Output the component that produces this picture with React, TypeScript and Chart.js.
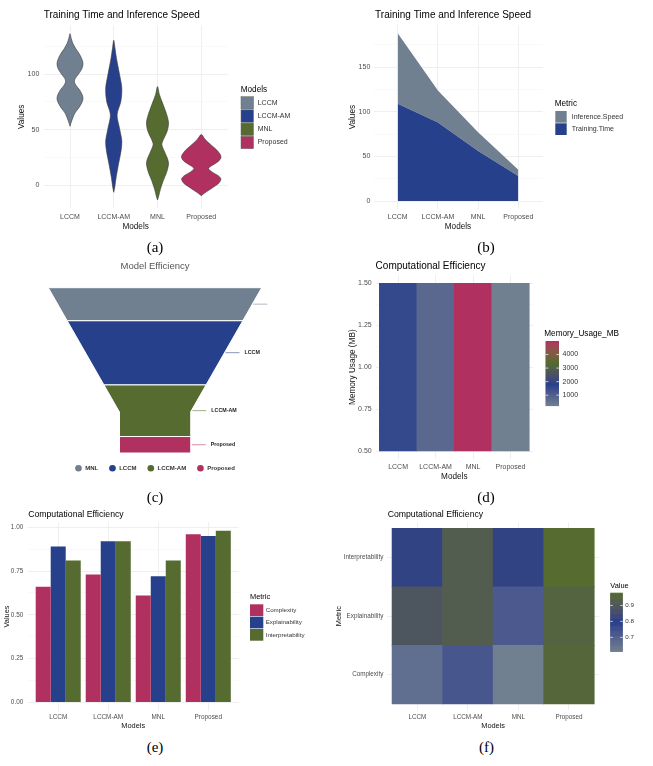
import React, { useEffect, useRef } from 'react';
import { Chart, registerables } from 'chart.js';

Chart.register(...registerables);

// ---------------- data ----------------
const models = ['LCCM', 'LCCM-AM', 'MNL', 'Proposed'];

// (a) violin outlines: value levels and relative half-width (1 = widest)
const lccmLevels = [53, 56.8, 60.4, 64.9, 69.4, 73.8, 77.7, 81.3, 85.7, 90.2, 93.2, 96.1, 100.6, 105.1, 109.5, 114, 118.5, 122.9, 127.4, 131.8, 136.3];
const lccmDensity = [0, 0.066, 0.14, 0.25, 0.44, 0.59, 0.66, 0.62, 0.49, 0.29, 0.22, 0.27, 0.46, 0.61, 0.66, 0.59, 0.46, 0.29, 0.15, 0.066, 0];
const lccmAmLevels = [-6.5, -2.1, 6.8, 18.8, 30.7, 39.6, 51.5, 63.4, 75.3, 87.2, 99.1, 114, 122.9, 130.4];
const lccmAmDensity = [0, 0.05, 0.12, 0.24, 0.37, 0.41, 0.29, 0.17, 0.36, 0.41, 0.3, 0.14, 0.066, 0];
const mnlLevels = [-13.4, -9.5, -3.6, 3.9, 11.3, 18.8, 23.2, 30.7, 36.6, 41.1, 48.5, 56, 63.4, 72.3, 81.3, 88.7];
const mnlDensity = [0, 0.066, 0.15, 0.29, 0.46, 0.56, 0.52, 0.34, 0.22, 0.3, 0.49, 0.56, 0.47, 0.29, 0.1, 0];
const proposedLevels = [-9.5, -7.4, -5.1, -2.1, 1.5, 5.4, 8.3, 11.9, 14.9, 17.3, 21.1, 24.7, 27.7, 32.1, 36.6, 41.1, 45.5];
const proposedDensity = [0, 0.15, 0.34, 0.59, 0.88, 1.0, 0.88, 0.54, 0.37, 0.51, 0.85, 1.0, 0.96, 0.76, 0.47, 0.2, 0];
const violinTicks = [0, 25, 50, 75, 100, 125];

// (b) stacked area
const trainingTime = [109, 88, 56, 28];
const inferenceSpeed = [79, 36, 21, 7];
const areaTicks = [0, 25, 50, 75, 100, 125, 150, 175];

// (c) funnel
const funnelModels = ['MNL', 'LCCM', 'LCCM-AM', 'Proposed'];
const funnelValues = [56, 109, 88, 28];

// (d) memory tiles
const memoryUsage = [1600, 800, 5000, 200];
const memoryTicks = [0.5, 0.625, 0.75, 0.875, 1, 1.125, 1.25, 1.375, 1.5];
const memoryLegendTicks = [1000, 2000, 3000, 4000];

// (e)(f) scores
const metrics = ['Complexity', 'Explainability', 'Interpretability'];
const complexity = [0.66, 0.73, 0.61, 0.96];
const explainability = [0.89, 0.92, 0.72, 0.95];
const interpretability = [0.81, 0.92, 0.81, 0.98];
const scoreTicks = [0, 0.125, 0.25, 0.375, 0.5, 0.625, 0.75, 0.875, 1];
const valueLegendTicks = [0.7, 0.8, 0.9];

// ---------------- style ----------------
const SANS = '"Liberation Sans", Arial, Helvetica, sans-serif';
const SERIF = '"Liberation Serif", "Times New Roman", serif';
const SLATE = '#708090';
const BLUE = '#27408B';
const GREEN = '#556B2F';
const MAROON = '#B03060';
const modelColors = [SLATE, BLUE, GREEN, MAROON];
const funnelColors = [SLATE, BLUE, GREEN, MAROON];
const metricColors = [MAROON, BLUE, GREEN];
const GRID_MAJOR = '#ebebeb';
const GRID_MINOR = '#f3f3f3';
const TICK = '#4d4d4d';

const font = (size: number, weight: string = 'normal') => ({ size, weight, family: SANS, lineHeight: 1.2 });

function txt(ctx: any, s: string, x: number, y: number, size: number, color: string, align: string = 'left', weight: string = 'normal') {
  ctx.font = `${weight} ${size}px ${SANS}`;
  ctx.fillStyle = color;
  ctx.textAlign = align;
  ctx.textBaseline = 'middle';
  ctx.fillText(s, x, y);
}

// ---- Lab colour ramp (like scales::colour_ramp) ----
const WHITE = [0.95047, 1, 1.08883];
function hexToRgb(h: string) {
  const n = parseInt(h.slice(1), 16);
  return [(n >> 16) & 255, (n >> 8) & 255, n & 255];
}
const toLin = (c: number) => { c /= 255; return c <= 0.04045 ? c / 12.92 : Math.pow((c + 0.055) / 1.055, 2.4); };
const toSrgb = (c: number) => {
  const v = c <= 0.0031308 ? 12.92 * c : 1.055 * Math.pow(Math.max(c, 0), 1 / 2.4) - 0.055;
  return Math.round(Math.max(0, Math.min(1, v)) * 255);
};
function rgbToLab(rgb: number[]) {
  const R = toLin(rgb[0]), G = toLin(rgb[1]), B = toLin(rgb[2]);
  const X = 0.4124564 * R + 0.3575761 * G + 0.1804375 * B;
  const Y = 0.2126729 * R + 0.7151522 * G + 0.072175 * B;
  const Z = 0.0193339 * R + 0.119192 * G + 0.9503041 * B;
  const f = (t: number) => (t > 216 / 24389 ? Math.cbrt(t) : (24389 / 27 * t + 16) / 116);
  const fx = f(X / WHITE[0]), fy = f(Y / WHITE[1]), fz = f(Z / WHITE[2]);
  return [116 * fy - 16, 500 * (fx - fy), 200 * (fy - fz)];
}
function labToRgb(lab: number[]) {
  const fy = (lab[0] + 16) / 116, fx = fy + lab[1] / 500, fz = fy - lab[2] / 200;
  const inv = (t: number) => (t * t * t > 216 / 24389 ? t * t * t : (116 * t - 16) / (24389 / 27));
  const X = inv(fx) * WHITE[0], Y = inv(fy) * WHITE[1], Z = inv(fz) * WHITE[2];
  const R = 3.2404542 * X - 1.5371385 * Y - 0.4985314 * Z;
  const G = -0.969266 * X + 1.8760108 * Y + 0.041556 * Z;
  const B = 0.0556434 * X - 0.2040259 * Y + 1.0572252 * Z;
  return [toSrgb(R), toSrgb(G), toSrgb(B)];
}
function makeRamp(colors: string[]) {
  const labs = colors.map((c) => rgbToLab(hexToRgb(c)));
  return (t: number) => {
    t = Math.max(0, Math.min(1, t));
    const s = t * (labs.length - 1);
    const i = Math.min(Math.floor(s), labs.length - 2);
    const f = s - i;
    const L = labs[i].map((v, k) => v + (labs[i + 1][k] - v) * f);
    const c = labToRgb(L);
    return `rgb(${c[0]},${c[1]},${c[2]})`;
  };
}
const memRamp = makeRamp([SLATE, BLUE, GREEN, MAROON]);
const valRamp = makeRamp([SLATE, BLUE, GREEN]);

function colorbar(ctx: any, o: any) {
  const steps = 130;
  for (let k = 0; k < steps; k++) {
    const v = o.max - ((k + 0.5) / steps) * (o.max - o.min);
    ctx.fillStyle = o.ramp((v - o.min) / (o.max - o.min));
    ctx.fillRect(o.x, o.top + (k * o.h) / steps, o.w, o.h / steps + (k < steps - 1 ? 0.6 : 0));
  }
  o.ticks.forEach((t: number) => {
    const y = o.top + ((o.max - t) / (o.max - o.min)) * o.h;
    ctx.strokeStyle = '#ffffff';
    ctx.lineWidth = 0.7;
    ctx.beginPath();
    ctx.moveTo(o.x, y); ctx.lineTo(o.x + o.w * 0.2, y);
    ctx.moveTo(o.x + o.w * 0.8, y); ctx.lineTo(o.x + o.w, y);
    ctx.stroke();
    txt(ctx, o.fmt(t), o.labelX, y, o.labelSize, '#333');
  });
}

// ---------------- ggplot-like scales ----------------
function ggScales(g: any) {
  const tl = (g.tick * 1.2) / 2;
  const ttl = (g.axisTitle * 1.2) / 2;
  const yMajor = g.yMajor;
  return {
    x: {
      type: 'linear', offset: false, min: g.xMin, max: g.xMax,
      afterBuildTicks: (s: any) => { s.ticks = g.xTicks.map((v: number) => ({ value: v })); },
      afterFit: (s: any) => { s.height = g.h - g.area.bottom; },
      ticks: { autoSkip: false, maxRotation: 0, minRotation: 0, padding: g.xLabelY - g.area.bottom - tl, color: TICK, font: font(g.tick), callback: (v: any) => g.xFmt(Number(v)) },
      grid: { color: GRID_MAJOR, lineWidth: 0.8, drawTicks: false, offset: false },
      border: { display: false },
      title: { display: true, text: g.xTitle, color: '#111', font: font(g.axisTitle), padding: { top: 0, bottom: g.h - g.xTitleY - ttl } },
    },
    y: {
      type: 'linear', min: g.yMin, max: g.yMax, stacked: !!g.stacked,
      afterBuildTicks: (s: any) => { s.ticks = g.yTicks.filter((v: number) => v >= g.yMin && v <= g.yMax).map((v: number) => ({ value: v })); },
      afterFit: (s: any) => { s.width = g.area.left; },
      ticks: { padding: g.area.left - g.yLabelRight, color: TICK, font: font(g.tick), callback: (v: any) => (yMajor(Number(v)) ? g.yFmt(Number(v)) : '') },
      grid: {
        color: (c: any) => (c.tick && yMajor(c.tick.value) ? GRID_MAJOR : GRID_MINOR),
        lineWidth: (c: any) => (c.tick && yMajor(c.tick.value) ? 0.8 : 0.5),
        drawTicks: false,
      },
      border: { display: false },
      title: { display: true, text: g.yTitle, color: '#111', font: font(g.axisTitle), padding: { top: g.yTitleX - ttl, bottom: 0 } },
    },
  };
}

function baseOptions(w: number, area: any) {
  return {
    responsive: false,
    animation: false,
    events: [],
    layout: { padding: { left: 0, right: w - area.right, top: area.top, bottom: 0 } },
    plugins: { legend: { display: false }, tooltip: { enabled: false }, title: { display: false } },
  };
}

const isMult = (v: number, m: number) => Math.abs(v / m - Math.round(v / m)) < 1e-6;

// ---------------- (a) violins ----------------
const violinLevels = [lccmLevels, lccmAmLevels, mnlLevels, proposedLevels];
const violinDensity = [lccmDensity, lccmAmDensity, mnlDensity, proposedDensity];
const VIOLIN_HALF = 0.45;
function violinOutline(center: number, levels: number[], dens: number[]) {
  const right = levels.map((y, k) => ({ x: center + dens[k] * VIOLIN_HALF, y }));
  const left = levels.slice(1, -1).map((y, k) => ({ x: center - dens[k + 1] * VIOLIN_HALF, y })).reverse();
  return [...right, ...left, right[0]];
}

function makeA() {
  const all = violinLevels.flat();
  const lo = Math.min(...all), hi = Math.max(...all), pad = (hi - lo) * 0.05;
  const area = { left: 43.75, right: 227.5, top: 25.4, bottom: 208.3 };
  const g = {
    w: 326, h: 236, area, xMin: 0.4, xMax: models.length + 0.6, xTicks: models.map((_, i) => i + 1),
    xFmt: (v: number) => models[v - 1] ?? '', yMin: lo - pad, yMax: hi + pad, yTicks: violinTicks,
    yMajor: (v: number) => isMult(v, 50), yFmt: (v: number) => String(v), tick: 7, axisTitle: 8.2,
    xTitle: 'Models', yTitle: 'Values', yLabelRight: 39.3, yTitleX: 21.7, xLabelY: 216.7, xTitleY: 226.7,
  };
  const datasets = models.map((m, i) => ({
    label: m, data: violinOutline(i + 1, violinLevels[i], violinDensity[i]), fill: 'shape',
    backgroundColor: modelColors[i], borderColor: '#3a3a3a', borderWidth: 0.6, pointRadius: 0, tension: 0.3,
  }));
  return {
    type: 'line', data: { datasets },
    options: { ...baseOptions(g.w, area), scales: ggScales(g) },
    plugins: [{
      id: 'decoA',
      afterDraw(chart: any) {
        const ctx = chart.ctx; ctx.save();
        txt(ctx, 'Training Time and Inference Speed', chart.chartArea.left, 15.7, 10, '#000');
        txt(ctx, 'Models', 240.7, 90, 8.2, '#000');
        models.forEach((m, i) => {
          const top = 96.7 + i * 13.2;
          ctx.fillStyle = modelColors[i]; ctx.fillRect(241, top, 12.5, 12.4);
          ctx.strokeStyle = '#666'; ctx.lineWidth = 0.5; ctx.strokeRect(241, top, 12.5, 12.4);
          txt(ctx, m, 257.7, top + 6.2, 7, '#333');
        });
        ctx.restore();
      },
    }],
  };
}

// ---------------- (b) stacked area ----------------
function makeB() {
  const totals = trainingTime.map((t, i) => t + inferenceSpeed[i]);
  const hi = Math.max(...totals), pad = hi * 0.05;
  const area = { left: 47.6, right: 216.4, top: 24.9, bottom: 209.4 };
  const g = {
    w: 327, h: 236, area, xMin: 0.4, xMax: models.length + 0.6, xTicks: models.map((_, i) => i + 1),
    xFmt: (v: number) => models[v - 1] ?? '', yMin: -pad, yMax: hi + pad, yTicks: areaTicks, stacked: true,
    yMajor: (v: number) => isMult(v, 50), yFmt: (v: number) => String(v), tick: 7, axisTitle: 8.2,
    xTitle: 'Models', yTitle: 'Values', yLabelRight: 44.3, yTitleX: 26.7, xLabelY: 216.7, xTitleY: 226.7,
  };
  const datasets = [
    { label: 'Training.Time', data: trainingTime.map((v, i) => ({ x: i + 1, y: v })), fill: 'origin', backgroundColor: BLUE, borderColor: 'rgba(0,0,0,0)', borderWidth: 0, pointRadius: 0, tension: 0 },
    { label: 'Inference.Speed', data: inferenceSpeed.map((v, i) => ({ x: i + 1, y: v })), fill: '-1', backgroundColor: SLATE, borderColor: 'rgba(0,0,0,0)', borderWidth: 0, pointRadius: 0, tension: 0 },
  ];
  const legend = [['Inference.Speed', SLATE], ['Training.Time', BLUE]];
  return {
    type: 'line', data: { datasets },
    options: { ...baseOptions(g.w, area), scales: ggScales(g) },
    plugins: [{
      id: 'decoB',
      afterDraw(chart: any) {
        const ctx = chart.ctx; ctx.save();
        txt(ctx, 'Training Time and Inference Speed', chart.chartArea.left + 1.5, 15.7, 10, '#000');
        txt(ctx, 'Metric', 228.7, 103.3, 8.2, '#000');
        legend.forEach((it, i) => {
          const top = 111 + i * 12.3;
          ctx.fillStyle = it[1]; ctx.fillRect(229.3, top, 11.4, 11.7);
          txt(ctx, it[0], 245.7, top + 6, 7, '#333');
        });
        ctx.restore();
      },
    }],
  };
}

// ---------------- (c) funnel ----------------
const NECK_W = 0.335;
const NECK_H = 0.25;
function makeC() {
  const total = funnelValues.reduce((s, v) => s + v, 0);
  const neckY = total * (1 - NECK_H);
  const widthAt = (y: number) => (y <= neckY ? 1 - (1 - NECK_W) * (y / neckY) : NECK_W);
  let cum = 0;
  const segs = funnelValues.map((v) => { const s = { y0: cum, y1: cum + v }; cum += v; return s; });
  const datasets = segs.map((s, i) => {
    const pts: any[] = [{ x: -widthAt(s.y0) / 2, y: s.y0 }];
    const crosses = s.y0 < neckY && s.y1 > neckY;
    if (crosses) pts.push({ x: -NECK_W / 2, y: neckY });
    pts.push({ x: -widthAt(s.y1) / 2, y: s.y1 });
    pts.push({ x: widthAt(s.y1) / 2, y: s.y1 });
    if (crosses) pts.push({ x: NECK_W / 2, y: neckY });
    pts.push({ x: widthAt(s.y0) / 2, y: s.y0 });
    pts.push({ x: -widthAt(s.y0) / 2, y: s.y0 });
    return { label: funnelModels[i], data: pts, fill: 'shape', backgroundColor: funnelColors[i], borderColor: '#ffffff', borderWidth: 1, pointRadius: 0, tension: 0 };
  });
  const area = { left: 48.3, right: 261.7, top: 35.7, bottom: 201 };
  return {
    type: 'line', data: { datasets },
    options: {
      responsive: false, animation: false, events: [],
      layout: { padding: { left: area.left, right: 326 - area.right, top: area.top, bottom: 234 - area.bottom } },
      plugins: { legend: { display: false }, tooltip: { enabled: false } },
      scales: {
        x: { type: 'linear', display: false, min: -0.5, max: 0.5 },
        y: { type: 'linear', display: false, min: 0, max: total, reverse: true },
      },
    },
    plugins: [{
      id: 'decoC',
      afterDraw(chart: any) {
        const ctx = chart.ctx; const ca = chart.chartArea;
        const xs = chart.scales.x, ys = chart.scales.y;
        ctx.save();
        const cx = (ca.left + ca.right) / 2;
        txt(ctx, 'Model Efficiency', cx, 14.7, 9.5, '#555', 'center');
        segs.forEach((s, i) => {
          const ym = (s.y0 + s.y1) / 2;
          const px = xs.getPixelForValue(widthAt(ym) / 2);
          const py = ys.getPixelForValue(ym);
          ctx.globalAlpha = 0.55;
          ctx.strokeStyle = funnelColors[i]; ctx.lineWidth = 1;
          ctx.beginPath(); ctx.moveTo(px + 1, py); ctx.lineTo(px + 15, py); ctx.stroke();
          ctx.globalAlpha = 1;
          const tx = px + 20;
          if (tx < ca.right) txt(ctx, funnelModels[i], tx, py, 5.3, '#222', 'left', 'bold');
        });
        // legend
        ctx.font = `bold 6px ${SANS}`;
        const r = 3.3, gapText = 3.4, gapItem = 11;
        const widths = funnelModels.map((m) => ctx.measureText(m).width);
        const totalW = widths.reduce((s, w) => s + 2 * r + gapText + w, 0) + gapItem * (widths.length - 1);
        let x = cx - totalW / 2;
        const ly = 216.3;
        funnelModels.forEach((m, i) => {
          ctx.fillStyle = funnelColors[i];
          ctx.beginPath(); ctx.arc(x + r, ly, r, 0, Math.PI * 2); ctx.fill();
          txt(ctx, m, x + 2 * r + gapText, ly, 6, '#333', 'left', 'bold');
          x += 2 * r + gapText + widths[i] + gapItem;
        });
        ctx.restore();
      },
    }],
  };
}

// ---------------- (d) memory tiles ----------------
function makeD() {
  const lo = Math.min(...memoryUsage), hi = Math.max(...memoryUsage);
  const area = { left: 49.6, right: 207, top: 22.9, bottom: 207.4 };
  const g = {
    w: 327, h: 234, area, xMin: 0.4, xMax: models.length + 0.6, xTicks: models.map((_, i) => i + 1),
    xFmt: (v: number) => models[v - 1] ?? '', yMin: 0.45, yMax: 1.55, yTicks: memoryTicks,
    yMajor: (v: number) => isMult(v, 0.25), yFmt: (v: number) => v.toFixed(2), tick: 7, axisTitle: 8.2,
    xTitle: 'Models', yTitle: 'Memory Usage (MB)', yLabelRight: 45.7, yTitleX: 26.7, xLabelY: 214.7, xTitleY: 224.7,
  };
  const datasets = [{
    label: 'Memory_Usage_MB',
    data: memoryUsage.map((v, i) => ({ x: i + 1, y: [0.5, 1.5] })),
    backgroundColor: memoryUsage.map((v) => memRamp((v - lo) / (hi - lo))),
    borderWidth: 0, barPercentage: 1, categoryPercentage: 1,
  }];
  return {
    type: 'bar', data: { datasets },
    options: { ...baseOptions(g.w, area), scales: ggScales(g) },
    plugins: [{
      id: 'decoD',
      afterDraw(chart: any) {
        const ctx = chart.ctx; ctx.save();
        txt(ctx, 'Computational Efficiency', chart.chartArea.left, 14.7, 10, '#000');
        txt(ctx, 'Memory_Usage_MB', 218.3, 81.3, 8.2, '#000');
        colorbar(ctx, { x: 219.7, top: 89, w: 13.3, h: 65, min: lo, max: hi, ramp: memRamp, ticks: memoryLegendTicks, fmt: (t: number) => String(t), labelX: 236.5, labelSize: 7 });
        ctx.restore();
      },
    }],
  };
}

// ---------------- (e) grouped bars ----------------
const scoreSeries = [complexity, explainability, interpretability];
function makeE() {
  const hi = Math.max(...scoreSeries.flat()), pad = hi * 0.05;
  const area = { left: 28.2, right: 238.3, top: 17.2, bottom: 205.9 };
  const g = {
    w: 326, h: 231, area, xMin: 0.4, xMax: models.length + 0.6, xTicks: models.map((_, i) => i + 1),
    xFmt: (v: number) => models[v - 1] ?? '', yMin: -pad, yMax: hi + pad, yTicks: scoreTicks,
    yMajor: (v: number) => isMult(v, 0.25), yFmt: (v: number) => v.toFixed(2), tick: 6.4, axisTitle: 7.4,
    xTitle: 'Models', yTitle: 'Values', yLabelRight: 23.3, yTitleX: 6.7, xLabelY: 212.3, xTitleY: 220.7,
  };
  const datasets = metrics.map((m, k) => ({
    label: m, data: scoreSeries[k].map((v, i) => ({ x: i + 1, y: v })),
    backgroundColor: metricColors[k], borderWidth: 0, barPercentage: 1, categoryPercentage: 0.9,
  }));
  return {
    type: 'bar', data: { datasets },
    options: { ...baseOptions(g.w, area), scales: ggScales(g) },
    plugins: [{
      id: 'decoE',
      afterDraw(chart: any) {
        const ctx = chart.ctx; ctx.save();
        txt(ctx, 'Computational Efficiency', chart.chartArea.left, 10, 8.7, '#000');
        txt(ctx, 'Metric', 250, 92.3, 7.4, '#000');
        metrics.forEach((m, k) => {
          const top = 99.3 + k * 12.35;
          ctx.fillStyle = metricColors[k]; ctx.fillRect(250, top, 13.3, 11.7);
          txt(ctx, m, 265.7, top + 5.9, 6.2, '#333');
        });
        ctx.restore();
      },
    }],
  };
}

// ---------------- (f) heatmap ----------------
function makeF() {
  const all = scoreSeries.flat();
  const lo = Math.min(...all), hi = Math.max(...all);
  const area = { left: 61, right: 273.3, top: 17.4, bottom: 204.9 };
  const g = {
    w: 327, h: 231, area, xMin: 0.4, xMax: models.length + 0.6, xTicks: models.map((_, i) => i + 1),
    xFmt: (v: number) => models[v - 1] ?? '', yMin: 0.4, yMax: metrics.length + 0.6, yTicks: metrics.map((_, k) => k + 1),
    yMajor: () => true, yFmt: (v: number) => metrics[v - 1] ?? '', tick: 6.3, axisTitle: 7.4,
    xTitle: 'Models', yTitle: 'Metric', yLabelRight: 57.3, yTitleX: 12.7, xLabelY: 212.3, xTitleY: 221,
  };
  const datasets = metrics.map((m, k) => ({
    label: m, data: scoreSeries[k].map((v, i) => ({ x: i + 1, y: [k + 0.5, k + 1.5] })),
    backgroundColor: scoreSeries[k].map((v) => valRamp((v - lo) / (hi - lo))),
    borderWidth: 0, barPercentage: 1, categoryPercentage: 1, grouped: false,
  }));
  return {
    type: 'bar', data: { datasets },
    options: { ...baseOptions(g.w, area), scales: ggScales(g) },
    plugins: [{
      id: 'decoF',
      afterDraw(chart: any) {
        const ctx = chart.ctx; ctx.save();
        txt(ctx, 'Computational Efficiency', chart.chartArea.left + 0.7, 9.3, 8.7, '#000');
        txt(ctx, 'Value', 284.3, 80.7, 7.4, '#000');
        colorbar(ctx, { x: 284.3, top: 87.7, w: 12.4, h: 59, min: lo, max: hi, ramp: valRamp, ticks: valueLegendTicks, fmt: (t: number) => t.toFixed(1), labelX: 299.3, labelSize: 6.2 });
        ctx.restore();
      },
    }],
  };
}

// ---------------- components ----------------
function ChartPanel(props: { left: number; top: number; w: number; h: number; make: () => any }) {
  const ref = useRef<HTMLCanvasElement>(null);
  useEffect(() => {
    const chart = new Chart(ref.current as HTMLCanvasElement, props.make());
    return () => chart.destroy();
  }, []);
  return (
    <canvas
      ref={ref}
      width={props.w}
      height={props.h}
      style={{ position: 'absolute', left: props.left, top: props.top, width: props.w, height: props.h }}
    />
  );
}

const captions: [string, number, number][] = [
  ['(a)', 155, 246.7],
  ['(b)', 486, 246.7],
  ['(c)', 155, 496.7],
  ['(d)', 486, 496.7],
  ['(e)', 155, 746.7],
  ['(f)', 486.5, 746.7],
];

export default function App() {
  return (
    <div style={{ position: 'absolute', left: 0, top: 0, width: 653, height: 766, background: '#ffffff', overflow: 'hidden' }}>
      <ChartPanel left={0} top={0} w={326} h={236} make={makeA} />
      <ChartPanel left={326} top={0} w={327} h={236} make={makeB} />
      <ChartPanel left={0} top={252} w={326} h={234} make={makeC} />
      <ChartPanel left={326} top={252} w={327} h={234} make={makeD} />
      <ChartPanel left={0} top={505} w={326} h={231} make={makeE} />
      <ChartPanel left={326} top={505} w={327} h={231} make={makeF} />
      {captions.map(([c, x, y]) => (
        <div
          key={c}
          style={{ position: 'absolute', left: x, top: y, transform: 'translate(-50%, -50%)', fontFamily: SERIF, fontSize: 15, lineHeight: 1, color: '#000', whiteSpace: 'nowrap', WebkitFontSmoothing: 'antialiased' }}
        >
          {c}
        </div>
      ))}
    </div>
  );
}
